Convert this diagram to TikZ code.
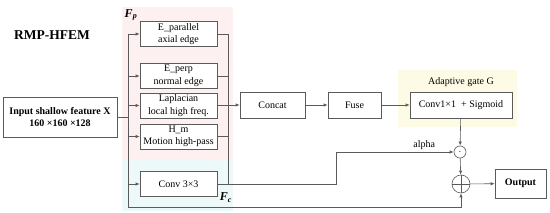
\documentclass[tikz,border=0pt]{standalone}
\usepackage{fontspec}
\setmainfont{Liberation Serif}
\usepackage{xcolor}
\definecolor{fpbg}{HTML}{FDF0F0}
\definecolor{fcbg}{HTML}{EDF8F8}
\definecolor{gatebg}{HTML}{FDFBE6}
\definecolor{edge}{HTML}{5A5A5A}
\usetikzlibrary{arrows.meta,positioning}
\begin{document}
\begin{tikzpicture}[x=1pt,y=-1pt,font=\fontsize{10}{12.5}\selectfont,
  box/.style={draw=edge,line width=0.6pt,fill=white,align=center,inner sep=1pt},
  branch/.style={box,minimum width=77pt,minimum height=25pt},
  grouplab/.style={font=\fontsize{12}{14}\selectfont\bfseries\itshape},
  wire/.style={draw=edge,line width=0.6pt},
  arr/.style={wire,-{Latex[length=4pt,width=3.2pt]}}]
\useasboundingbox (0,0) rectangle (550,213);
% shaded groups
\fill[fpbg] (122,7) rectangle (233,160);
\fill[fcbg] (122,160) rectangle (233,211);
\fill[gatebg] (398,70) rectangle (517,127);
% title and input
\node (title) at (52,35) {\fontsize{13.5}{15}\selectfont\bfseries RMP-HFEM};
\node[box,minimum width=114pt,minimum height=40pt,font=\fontsize{10}{12.5}\selectfont\bfseries] (inp) at (60,117) {Input shallow feature X\\160 ×160 ×128};
% branches F_p and F_c
\foreach \n/\y/\t in {epar/34/{E\_parallel\\axial edge}, eperp/76/{E\_perp\\normal edge}, lap/105.5/{Laplacian\\local high freq.}, hm/136.5/{H\_m\\Motion high-pass}, conv/184/{Conv 3×3}}{
  \node[branch] (\n) at (178.5,\y) {\t};}
\node[grouplab] (fp) at (131,15) {F\textsubscript{p}};
\node[grouplab] (fc) at (226,198) {F\textsubscript{c}};
% fusion path
\node[box,minimum width=65pt,minimum height=26pt] (concat) at (272.5,105) {Concat};
\node[box,minimum width=53pt,minimum height=26pt] (fuse) at (354.5,105) {Fuse};
\node[box,minimum width=102pt,minimum height=26pt] (gate) at (461,105) {Conv1×1 \ + Sigmoid};
\node[above=2pt of gate] (gatelab) {Adaptive gate G};
\node[draw=edge,line width=0.6pt,circle,minimum size=12pt,inner sep=0pt] (dot) at (460,152) {$\cdot$};
\node[draw=edge,line width=0.6pt,circle,minimum size=18pt,inner sep=0pt,
  path picture={\draw[edge,line width=0.6pt] (path picture bounding box.north) -- (path picture bounding box.south)
    (path picture bounding box.west) -- (path picture bounding box.east);}] (plus) at (461,184) {};
\node[box,minimum width=51pt,minimum height=29pt,font=\fontsize{10}{12.5}\selectfont\bfseries] (out) at (520.5,183.5) {Output};
% left bus: input to every branch, and the skip to the sum
\coordinate (bt) at (128,34);
\coordinate (bb) at (128,207);
\draw[wire] (inp.east) -- (inp.east -| bt);
\draw[wire] (bt) -- (bb);
\draw[arr] (bb) -| (plus.south);
\foreach \n in {epar,eperp,lap,hm,conv}{\draw[arr] (bt |- \n.west) -- (\n.west);}
% right bus: branches to concat
\coordinate (rt) at (228,34);
\draw[wire] (rt) -- (rt |- conv.east);
\foreach \n in {epar,eperp,lap,hm}{\draw[wire] (\n.east) -- (rt |- \n.east);}
\draw[arr] (rt |- concat.west) -- (concat.west);
\draw[arr] (concat) -- (fuse);
\draw[arr] (fuse) -- (gate);
\draw[arr] (gate) -- (dot);
% context branch, gated
\coordinate (bend) at (336,152);
\draw[arr] (conv.east) -| (bend) -- node[pos=0.75,above=-1pt] {alpha} (dot.west);
\draw[arr] (dot) -- (plus);
\draw[arr] (plus) -- (out);
\end{tikzpicture}
\end{document}
